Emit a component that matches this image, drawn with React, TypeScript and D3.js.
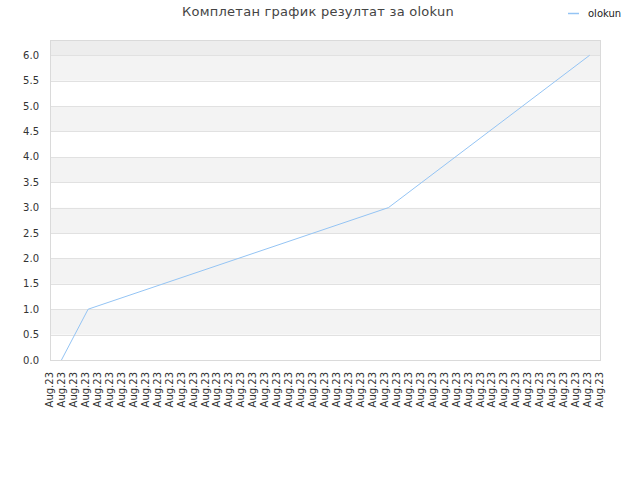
import { useEffect } from "react"
import * as d3 from "d3"

const TITLE = "Комплетан график резултат за olokun"
const SERIES = "olokun"

// x positions in tick-label units
const pointX = [1, 3.23, 28.35, 45.18]
const pointY = [0, 1, 3, 6]

const tickCount = 47
const tickLabels = Array.from({ length: tickCount }, () => "Aug.23")
const yTicks = [0, 0.5, 1, 1.5, 2, 2.5, 3, 3.5, 4, 4.5, 5, 5.5, 6]

const W = 640
const H = 480
const LEFT = 50
const RIGHT = 600
const TOP = 40
const BOTTOM = 360

const LINE = "#94c4f4"
const FONT = "DejaVu Sans, sans-serif"

export default function App() {
  useEffect(() => {
    document.body.style.margin = "0"
  }, [])

  const x = d3.scaleLinear().domain([0, tickCount - 1]).range([49.5, 599.5])
  const y = d3.scaleLinear().domain([0, 6.3]).range([BOTTOM, TOP])

  const line = d3.line<number>()
    .x((_, i) => x(pointX[i]))
    .y((d) => y(d))

  // alternating background bands between half steps
  const bands = yTicks.slice(0, -1).map((v, i) => ({ lo: v, hi: yTicks[i + 1], i }))

  return (
    <svg width={W} height={H} style={{ display: "block", background: "#fff" }} fontFamily={FONT}>
      <text x={318} y={16} textAnchor="middle" fontSize={13} fill="#444" letterSpacing={0.25}>{TITLE}</text>

      <line x1={568} x2={579} y1={13.5} y2={13.5} stroke={LINE} strokeWidth={1.5} />
      <text x={588} y={16.5} fontSize={10} fill="#222">{SERIES}</text>

      <rect x={LEFT} y={TOP} width={RIGHT - LEFT} height={y(6) - TOP} fill="#ededed" />
      {bands.map((b) => (
        <rect key={b.i} x={LEFT} y={y(b.hi)} width={RIGHT - LEFT} height={y(b.lo) - y(b.hi)}
          fill={b.i % 2 === 1 ? "#f3f3f3" : "#ffffff"} />
      ))}
      {yTicks.slice(1).map((v) => (
        <line key={v} x1={LEFT} x2={RIGHT} y1={Math.round(y(v)) + 0.5} y2={Math.round(y(v)) + 0.5}
          stroke="#e1e1e1" />
      ))}
      <rect x={LEFT + 0.5} y={TOP + 0.5} width={RIGHT - LEFT} height={BOTTOM - TOP}
        fill="none" stroke="#dadada" />

      {yTicks.map((v) => (
        <text key={v} x={39} y={y(v) + 3.5} textAnchor="end" fontSize={10} fill="#333">
          {v.toFixed(1)}
        </text>
      ))}

      {tickLabels.map((t, i) => (
        <text key={i} transform={`translate(${x(i) + 3.6},372) rotate(-90)`} textAnchor="end"
          fontSize={10} fill="#333">{t}</text>
      ))}

      <path d={line(pointY) ?? ""} fill="none" stroke={LINE} strokeWidth={1} />
    </svg>
  )
}
